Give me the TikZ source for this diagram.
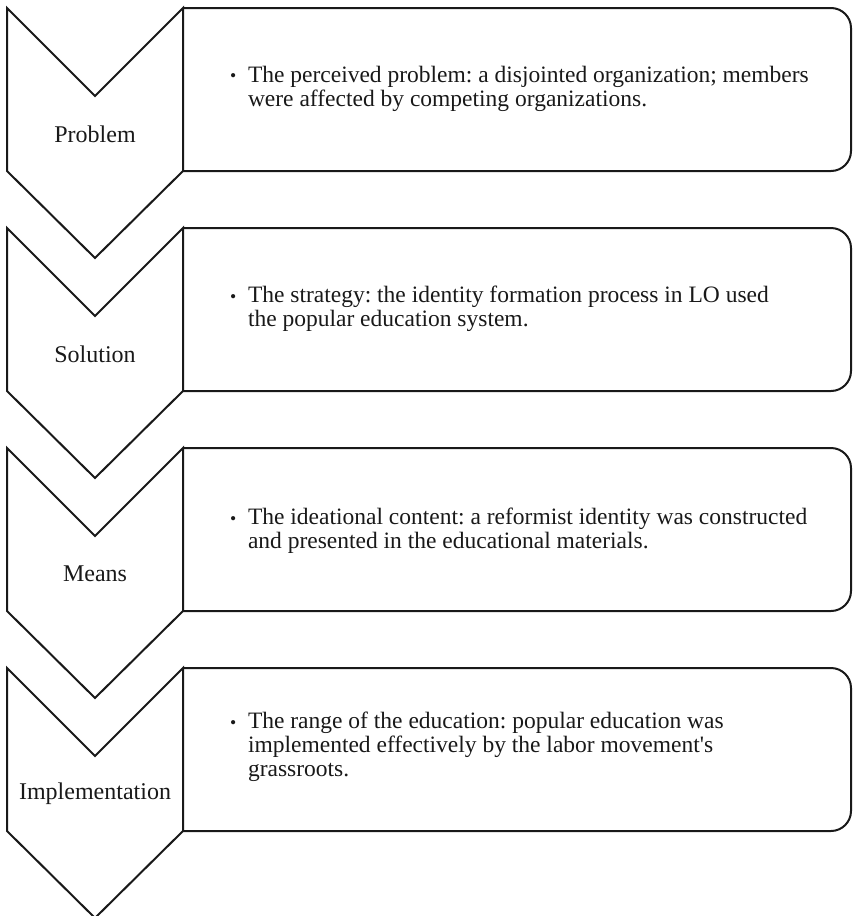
\documentclass[tikz,border=0pt]{standalone}
\usepackage{fontspec}
\setmainfont{Liberation Serif}
\frenchspacing
\newcommand{\bul}{\makebox[18pt][l]{\raisebox{0.5pt}{\scalebox{0.75}{\textbullet}}}}
\newcommand{\cont}{\hspace*{18pt}}
\begin{document}
\begin{tikzpicture}[x=1pt,y=-1pt,line width=2pt,
  shapeline/.style={draw=black!90,line width=2pt,line join=miter},
  steplabel/.style={font=\fontsize{24}{28}\selectfont,text=black!90,inner sep=0pt,anchor=center},
  bullettext/.style={font=\fontsize{23.5}{24}\selectfont,text=black!90,inner sep=0pt,anchor=north west,align=left}]
\useasboundingbox (0,0) rectangle (852,916);
\clip (0,0) rectangle (852,916);
\foreach \T/\name/\lab in {8/p/Problem,228/s/Solution,448/m/Means,668/i/Implementation}{
  \draw[shapeline] (7,\T) -- (95,\T+88) -- (183,\T) -- (183,\T+163) -- (95,\T+250) -- (7,\T+163) -- cycle;
  \draw[shapeline] (183,\T) [rounded corners=20pt] -- (851,\T) -- (851,\T+163) [sharp corners] -- (183,\T+163);
  \node[steplabel] (\name lab) at (95,\T+126) {\lab};
}
\node[bullettext] (pt) at (229,81-16) {\bul The perceived problem: a disjointed organization; members\\\cont were affected by competing organizations.};
\node[bullettext] (st) at (229,301-16) {\bul The strategy: the identity formation process in LO used\\\cont the popular education system.};
\node[bullettext] (mt) at (229,523-16) {\bul The ideational content: a reformist identity was constructed\\\cont and presented in the educational materials.};
\node[bullettext] (it) at (229,727-16) {\bul The range of the education: popular education was\\\cont implemented effectively by the labor movement\textquotesingle s\\\cont grassroots.};
\end{tikzpicture}
\end{document}
